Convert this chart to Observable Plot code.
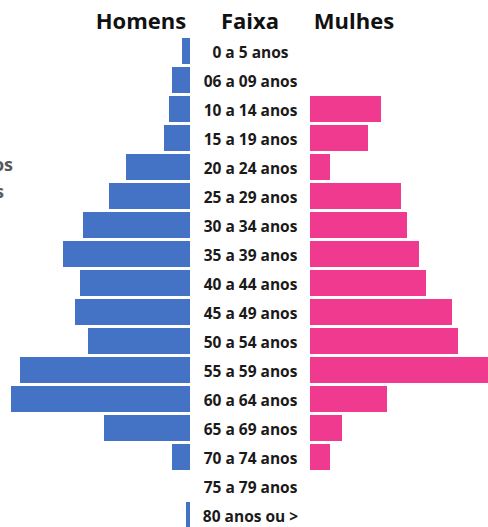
<!DOCTYPE html>
<html><head><meta charset="utf-8">
<script src="https://cdn.jsdelivr.net/npm/d3@7"></script>
<script src="https://cdn.jsdelivr.net/npm/@observablehq/plot@0.6"></script>
<style>
body{margin:0;background:#fff;}
#wrap{position:relative;width:488px;height:527px;overflow:hidden;font-family:"Open Sans",sans-serif;}
.hdr{position:absolute;top:9px;line-height:22px;font-weight:700;font-size:22px;color:#111;transform:translateX(-50%);white-space:nowrap;}
.side{position:absolute;line-height:18px;font-weight:700;font-size:18px;color:#595959;white-space:nowrap;}
</style></head><body><div id="wrap"></div>
<script>
const faixas = ["0 a 5 anos","06 a 09 anos","10 a 14 anos","15 a 19 anos","20 a 24 anos","25 a 29 anos","30 a 34 anos","35 a 39 anos","40 a 44 anos","45 a 49 anos","50 a 54 anos","55 a 59 anos","60 a 64 anos","65 a 69 anos","70 a 74 anos","75 a 79 anos","80 anos ou >"];
const homens   = [8,18,21,26,64,81,107,127,110,115,102,170,179,86,18,0,4];
const mulheres = [0,0,71,58,20,91,97,109,116,142,148,178,77,32,20,0,0];
const titulos = ["Homens","Faixa","Mulhes"];
const corHomens = "#4472C4", corMulheres = "#EF3A8F";

const data = faixas.map((f,i)=>({faixa:f, homens:homens[i], mulheres:mulheres[i]}));
const gap = 60; // half-width of the central label column (x units)

const chart = Plot.plot({
  width: 488, height: 527,
  marginTop: 0, marginBottom: 0, marginLeft: 0, marginRight: 0,
  x: {domain: [-250, 238], axis: null},
  y: {domain: faixas, range: [33.9, 532.1], padding: 0.107, axis: null},
  style: {fontFamily: "'Open Sans', sans-serif", background: "white", overflow: "hidden"},
  marks: [
    Plot.barX(data, {y: "faixa", x1: () => -gap, x2: d => -gap - d.homens, fill: corHomens}),
    Plot.barX(data, {y: "faixa", x1: () => gap, x2: d => gap + d.mulheres, fill: corMulheres}),
    Plot.text(data, {y: "faixa", x: () => 0, dy: 2, text: "faixa", fontWeight: 700, fontSize: 15.5, fill: "#1a1a1a"})
  ]
});
const wrap = document.getElementById("wrap");
wrap.appendChild(chart);

// headers above the three columns, centred on the column positions via the x scale
const xs = chart.scale("x");
const centres = [xs.apply(-gap - 49), xs.apply(0), xs.apply(gap + 44)];
titulos.forEach((t,i)=>{
  const d = document.createElement("div");
  d.className = "hdr"; d.textContent = t; d.style.left = centres[i] + "px";
  wrap.appendChild(d);
});
// clipped side text at the left edge
[["anos",155,13],["idades",182,4]].forEach(([t,top,right])=>{
  const d = document.createElement("div");
  d.className = "side"; d.textContent = t;
  d.style.top = top + "px"; d.style.right = (488 - right) + "px";
  wrap.appendChild(d);
});
</script></body></html>
